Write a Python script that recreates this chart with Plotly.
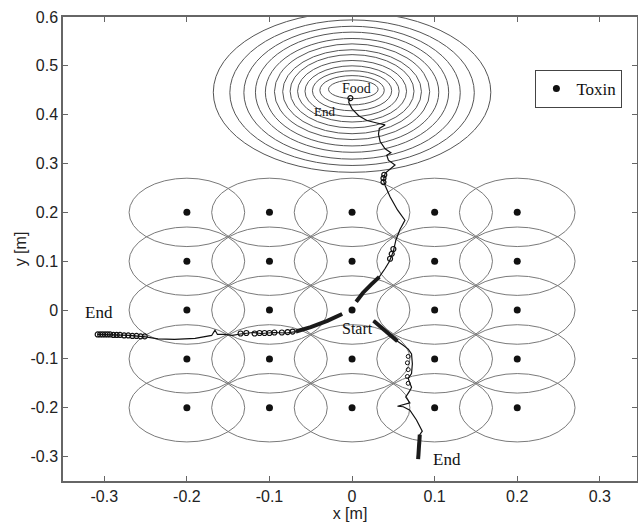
import plotly.graph_objects as go

# ---------------- data ----------------
toxin_x = [-0.2, -0.1, 0.0, 0.1, 0.2]
toxin_y = [-0.2, -0.1, 0.0, 0.1, 0.2]
toxin_radius = 0.07

# food concentration contours (centre x, centre y, radius x, radius y)
food_cx = [0.0, 0.0, 0.0, 0.0, 0.0, 0.0, 0.0, 0.0, 0.0, 0.0, 0.0, 0.0, 0.0015]
food_cy = [0.446, 0.445, 0.445, 0.446, 0.446, 0.447, 0.447, 0.448, 0.448, 0.448, 0.449, 0.450, 0.452]
food_rx = [0.168, 0.148, 0.131, 0.117, 0.105, 0.094, 0.084, 0.075, 0.066, 0.057, 0.048, 0.039, 0.030]
food_ry = [0.164, 0.149, 0.136, 0.123, 0.110, 0.098, 0.086, 0.075, 0.063, 0.052, 0.041, 0.030, 0.019]

# path towards food
pathA_x = [0.005, 0.013, 0.023, 0.033, 0.040, 0.045, 0.050, 0.053, 0.058, 0.064, 0.055, 0.046, 0.040,
           0.038, 0.040, 0.052, 0.044, 0.042, 0.047, 0.040, 0.034, 0.032, 0.033, 0.040, 0.030, 0.018,
           0.008, 0.000, -0.004, -0.003]
pathA_y = [0.017, 0.035, 0.052, 0.068, 0.085, 0.099, 0.120, 0.143, 0.165, 0.184, 0.205, 0.232, 0.255,
           0.266, 0.280, 0.297, 0.307, 0.317, 0.322, 0.330, 0.345, 0.360, 0.372, 0.379, 0.383, 0.388,
           0.398, 0.412, 0.425, 0.434]
pathA_dense = 4
pathA_mark_x = [0.038, 0.038, 0.039, 0.046, 0.048, 0.050, -0.002]
pathA_mark_y = [0.262, 0.270, 0.277, 0.105, 0.115, 0.125, 0.434]

# path to the left
pathB_x = [-0.012, -0.030, -0.050, -0.068, -0.080, -0.094, -0.110, -0.120, -0.135, -0.145, -0.155,
           -0.163, -0.166, -0.170, -0.190, -0.215, -0.235, -0.250, -0.270, -0.290, -0.308]
pathB_y = [-0.008, -0.022, -0.035, -0.044, -0.047, -0.046, -0.048, -0.046, -0.049, -0.052, -0.050,
           -0.050, -0.041, -0.052, -0.058, -0.060, -0.059, -0.055, -0.052, -0.051, -0.050]
pathB_dense = 4
pathB_mark_x = [-0.308, -0.305, -0.302, -0.299, -0.296, -0.293, -0.289, -0.285, -0.281, -0.276,
                -0.271, -0.266, -0.261, -0.256, -0.251, -0.135, -0.128, -0.118, -0.112, -0.106,
                -0.100, -0.094, -0.085, -0.078, -0.072]
pathB_mark_y = [-0.050, -0.050, -0.050, -0.050, -0.050, -0.050, -0.051, -0.051, -0.051, -0.052,
                -0.052, -0.053, -0.053, -0.054, -0.054, -0.048, -0.047, -0.048, -0.047, -0.047,
                -0.047, -0.046, -0.046, -0.045, -0.044]

# path downwards
pathC_x = [0.026, 0.035, 0.045, 0.055, 0.062, 0.068, 0.072, 0.073, 0.072, 0.068, 0.070, 0.072, 0.070,
           0.065, 0.070, 0.055, 0.062, 0.070, 0.078, 0.085, 0.082, 0.081, 0.080, 0.080]
pathC_y = [-0.022, -0.035, -0.050, -0.064, -0.072, -0.080, -0.090, -0.110, -0.130, -0.140, -0.150,
           -0.158, -0.165, -0.178, -0.190, -0.197, -0.198, -0.205, -0.225, -0.248, -0.255, -0.275,
           -0.292, -0.305]
pathC_dense_start = 4
pathC_dense_end = 20
pathC_mark_x = [0.068, 0.067, 0.068, 0.067, 0.068]
pathC_mark_y = [-0.095, -0.108, -0.122, -0.136, -0.150]

labels_text = ["Food", "End", "End", "Start", "End"]
labels_x = [0.005, -0.033, -0.306, 0.006, 0.115]
labels_y = [0.453, 0.407, -0.006, -0.037, -0.306]
labels_size = [14, 13, 17, 16, 17]

x_ticks = [-0.3, -0.2, -0.1, 0.0, 0.1, 0.2, 0.3]
x_ticktext = ["-0.3", "-0.2", "-0.1", "0", "0.1", "0.2", "0.3"]
y_ticks = [-0.3, -0.2, -0.1, 0.0, 0.1, 0.2, 0.3, 0.4, 0.5, 0.6]
y_ticktext = ["-0.3", "-0.2", "-0.1", "0", "0.1", "0.2", "0.3", "0.4", "0.5", "0.6"]

# ---------------- figure ----------------
fig = go.Figure()
shapes = []
ell_color = "#7a7a7a"
for tx in toxin_x:
    for ty in toxin_y:
        shapes.append(dict(type="circle", xref="x", yref="y",
                           x0=tx - toxin_radius, x1=tx + toxin_radius,
                           y0=ty - toxin_radius, y1=ty + toxin_radius,
                           line=dict(color=ell_color, width=1), layer="below"))
for cx, cy, rx, ry in zip(food_cx, food_cy, food_rx, food_ry):
    shapes.append(dict(type="circle", xref="x", yref="y",
                       x0=cx - rx, x1=cx + rx, y0=cy - ry, y1=cy + ry,
                       line=dict(color="#555555", width=1), layer="below"))

line_style = dict(color="#111111", width=1.2)
thick_style = dict(color="#1a1a1a", width=4)
open_marker = dict(symbol="circle-open", size=5, color="#111111", line=dict(width=1.2))

# trajectories
fig.add_trace(go.Scatter(x=pathA_x, y=pathA_y, mode="lines", line=line_style, showlegend=False, hoverinfo="skip"))
fig.add_trace(go.Scatter(x=pathA_x[:pathA_dense], y=pathA_y[:pathA_dense], mode="lines", line=thick_style,
                         showlegend=False, hoverinfo="skip"))
fig.add_trace(go.Scatter(x=pathA_mark_x, y=pathA_mark_y, mode="markers", marker=open_marker,
                         showlegend=False, hoverinfo="skip"))

fig.add_trace(go.Scatter(x=pathB_x, y=pathB_y, mode="lines", line=line_style, showlegend=False, hoverinfo="skip"))
fig.add_trace(go.Scatter(x=pathB_x[:pathB_dense], y=pathB_y[:pathB_dense], mode="lines", line=thick_style,
                         showlegend=False, hoverinfo="skip"))
fig.add_trace(go.Scatter(x=pathB_mark_x, y=pathB_mark_y, mode="markers", marker=open_marker,
                         showlegend=False, hoverinfo="skip"))

fig.add_trace(go.Scatter(x=pathC_x, y=pathC_y, mode="lines", line=line_style, showlegend=False, hoverinfo="skip"))
fig.add_trace(go.Scatter(x=pathC_x[:pathC_dense_start], y=pathC_y[:pathC_dense_start], mode="lines",
                         line=thick_style, showlegend=False, hoverinfo="skip"))
fig.add_trace(go.Scatter(x=pathC_x[pathC_dense_end:], y=pathC_y[pathC_dense_end:], mode="lines",
                         line=thick_style, showlegend=False, hoverinfo="skip"))
fig.add_trace(go.Scatter(x=pathC_mark_x, y=pathC_mark_y, mode="markers",
                         marker=dict(symbol="circle-open", size=4, color="#111111", line=dict(width=1)),
                         showlegend=False, hoverinfo="skip"))

# toxins
tx_all = [tx for tx in toxin_x for ty in toxin_y]
ty_all = [ty for tx in toxin_x for ty in toxin_y]
fig.add_trace(go.Scatter(x=tx_all, y=ty_all, mode="markers", name="Toxin",
                         marker=dict(color="#111111", size=7)))

annotations = []
for t, x, y, s in zip(labels_text, labels_x, labels_y, labels_size):
    annotations.append(dict(x=x, y=y, xref="x", yref="y", text=t, showarrow=False,
                            font=dict(family="Liberation Serif", size=s, color="#111111")))

axis_common = dict(showline=True, linecolor="#666666", linewidth=1.5, mirror="ticks",
                   ticks="inside", ticklen=5, tickcolor="#666666", showgrid=False, zeroline=False,
                   automargin=False,
                   tickfont=dict(family="Liberation Sans", size=16, color="#222222"))

fig.update_layout(
    width=638, height=522,
    margin=dict(l=63, r=1, t=17, b=41),
    paper_bgcolor="white", plot_bgcolor="white",
    shapes=shapes, annotations=annotations,
    xaxis=dict(range=[-0.35, 0.345], tickvals=x_ticks, ticktext=x_ticktext,
               title=dict(text="x [m]", font=dict(family="Liberation Sans", size=16, color="#222222"), standoff=0),
               **axis_common),
    yaxis=dict(range=[-0.35, 0.6], tickvals=y_ticks, ticktext=y_ticktext,
               title=dict(text="y [m]", font=dict(family="Liberation Sans", size=16, color="#222222"), standoff=0),
               **axis_common),
    legend=dict(x=0.823, y=0.886, xanchor="left", yanchor="top", bgcolor="white",
                bordercolor="#444444", borderwidth=1,
                font=dict(family="Liberation Serif", size=17, color="#111111")),
    showlegend=True,
)

fig.write_html("out.html", config={"displayModeBar": False},
               post_script="document.body.style.margin='0';document.body.style.overflow='hidden';")
